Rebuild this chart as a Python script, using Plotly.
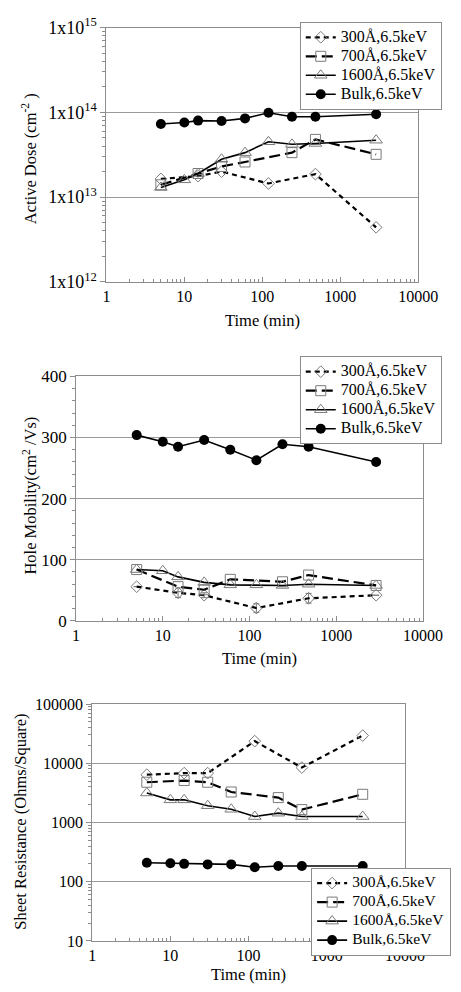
import plotly.graph_objects as go

# ---------------- data ----------------
series_names = ["300Å,6.5keV", "700Å,6.5keV", "1600Å,6.5keV", "Bulk,6.5keV"]

# Panel 1: Active dose (cm^-2)
dose_t300 = [5, 15, 30, 120, 480, 2880]
dose_300 = [1.64e13, 1.77e13, 2.0e13, 1.45e13, 1.87e13, 4.4e12]
dose_t700 = [5, 15, 30, 60, 240, 480, 2880]
dose_700 = [1.4e13, 1.9e13, 2.3e13, 2.6e13, 3.35e13, 4.8e13, 3.2e13]
dose_t1600 = [5, 10, 15, 30, 60, 120, 240, 480, 2880]
dose_1600 = [1.3e13, 1.6e13, 1.9e13, 2.8e13, 3.35e13, 4.5e13, 4.2e13, 4.3e13, 4.7e13]
dose_tbulk = [5, 10, 15, 30, 60, 120, 240, 480, 2880]
dose_bulk = [7.3e13, 7.6e13, 8.0e13, 7.9e13, 8.5e13, 9.9e13, 8.9e13, 8.9e13, 9.5e13]

# Panel 2: Hole mobility (cm^2/Vs)
mob_t300 = [5, 15, 30, 120, 480, 2880]
mob_300 = [56, 46, 42, 21, 37, 42]
mob_err300 = [0, 8, 4, 7, 8, 0]
mob_t700 = [5, 15, 30, 60, 240, 480, 2880]
mob_700 = [84, 56, 51, 68, 64, 75, 58]
mob_t1600 = [5, 10, 15, 30, 60, 120, 240, 480, 2880]
mob_1600 = [84, 82, 72, 63, 59, 59, 58, 60, 58]
mob_tbulk = [5, 10, 15, 30, 60, 120, 240, 480, 2880]
mob_bulk = [304, 293, 285, 296, 280, 263, 289, 285, 260]

# Panel 3: Sheet resistance (Ohms/Square)
rs_t300 = [5, 15, 30, 120, 480, 2880]
rs_300 = [6400, 6800, 6800, 23600, 8450, 29300]
rs_t700 = [5, 15, 30, 60, 240, 480, 2880]
rs_700 = [4780, 5100, 4780, 3270, 2630, 1650, 2990]
rs_t1600 = [5, 10, 15, 30, 60, 120, 240, 480, 2880]
rs_1600 = [3150, 2410, 2410, 1920, 1670, 1260, 1435, 1260, 1260]
rs_tbulk = [5, 10, 15, 30, 60, 120, 240, 480, 2880]
rs_bulk = [209, 205, 200, 196, 196, 175, 184, 184, 184]

x_tickvals = [1, 10, 100, 1000, 10000]
x_ticktext = ["1", "10", "100", "1000", "10000"]
dose_tickvals = [1e12, 1e13, 1e14, 1e15]
dose_ticktext = ["1x10<sup>12</sup>", "1x10<sup>13</sup>", "1x10<sup>14</sup>", "1x10<sup>15</sup>"]
mob_tickvals = [0, 100, 200, 300, 400]
rs_tickvals = [10, 100, 1000, 10000, 100000]
rs_ticktext = ["10", "100", "1000", "10000", "100000"]

# ---------------- styles ----------------
SERIF = "Liberation Serif, Times New Roman, serif"
GRAY = "#7a7a7a"
styles = [
    dict(line=dict(color="black", width=2.2, dash="5px,4px"),
         marker=dict(symbol="diamond-open", size=9, color=GRAY, line=dict(width=1, color=GRAY))),
    dict(line=dict(color="black", width=2.2, dash="11px,5px"),
         marker=dict(symbol="square-open", size=10, color=GRAY, line=dict(width=1, color=GRAY))),
    dict(line=dict(color="black", width=1.6),
         marker=dict(symbol="triangle-up-open", size=11, color=GRAY, line=dict(width=1, color=GRAY))),
    dict(line=dict(color="black", width=1.6),
         marker=dict(symbol="circle", size=10, color="black", line=dict(width=0))),
]

fig = go.Figure()

panels = [
    ("x", "y", "legend", 16, [(dose_t300, dose_300, None), (dose_t700, dose_700, None),
                              (dose_t1600, dose_1600, None), (dose_tbulk, dose_bulk, None)]),
    ("x2", "y2", "legend2", 16, [(mob_t300, mob_300, mob_err300), (mob_t700, mob_700, None),
                                 (mob_t1600, mob_1600, None), (mob_tbulk, mob_bulk, None)]),
    ("x3", "y3", "legend3", 15.5, [(rs_t300, rs_300, None), (rs_t700, rs_700, None),
                                   (rs_t1600, rs_1600, None), (rs_tbulk, rs_bulk, None)]),
]

for xa, ya, lg, fs, data in panels:
    for i, (tx, vy, err) in enumerate(data):
        kw = {}
        if err is not None:
            kw["error_y"] = dict(type="data", array=err, visible=True, color=GRAY,
                                 thickness=1, width=3)
        fig.add_trace(go.Scatter(
            x=tx, y=vy, mode="lines+markers",
            name=f"<span style='font-size:{fs}px'>{series_names[i]}</span>",
            xaxis=xa, yaxis=ya, legend=lg, **styles[i], **kw))

W, H = 461, 992


def dx(a, b):
    return [a / W, b / W]


def dy(top, bottom):
    return [1 - bottom / H, 1 - top / H]


def minor_log(lo, hi):
    return [m * 10 ** e for e in range(lo, hi) for m in range(2, 10)]


axis_common = dict(showline=True, linecolor="#8c8c8c", linewidth=1, mirror=True,
                   tickfont=dict(family=SERIF, size=16, color="black"), zeroline=False)

xaxis_common = dict(axis_common, type="log", range=[0, 4], tickmode="array",
                    tickvals=x_tickvals, ticktext=x_ticktext, showgrid=False,
                    ticks="inside", ticklen=5, tickcolor="#8c8c8c",
                    minor=dict(tickmode="array", tickvals=minor_log(0, 4), ticks="inside",
                               ticklen=3, tickcolor="#8c8c8c", showgrid=False))

legend_common = dict(xanchor="left", yanchor="top", bgcolor="white",
                     bordercolor="#8c8c8c", borderwidth=1)

fig.update_layout(
    width=W, height=H, margin=dict(l=0, r=0, t=0, b=0),
    paper_bgcolor="white", plot_bgcolor="white",
    font=dict(family=SERIF, color="black"),
    xaxis=dict(xaxis_common, domain=dx(108, 437), anchor="y"),
    yaxis=dict(axis_common, type="log", range=[12, 15], domain=dy(16, 276), anchor="x",
               tickmode="array", tickvals=dose_tickvals, ticktext=dose_ticktext,
               tickfont=dict(family=SERIF, size=18, color="black"),
               showgrid=True, gridcolor="#9a9a9a", gridwidth=1,
               ticks="outside", ticklen=5, tickcolor="#8c8c8c",
               minor=dict(tickmode="array", tickvals=minor_log(12, 15), ticks="outside",
                          ticklen=3, tickcolor="#8c8c8c", showgrid=False)),
    xaxis2=dict(xaxis_common, domain=dx(76, 442), anchor="y2"),
    yaxis2=dict(axis_common, range=[0, 400], domain=dy(372.7, 622.7), anchor="x2",
                tickmode="array", tickvals=mob_tickvals,
                tickfont=dict(family=SERIF, size=17, color="black"),
                showgrid=True, gridcolor="#9a9a9a", gridwidth=1,
                ticks="outside", ticklen=5, tickcolor="#8c8c8c",
                minor=dict(dtick=20, ticks="outside", ticklen=3, tickcolor="#8c8c8c",
                           showgrid=False)),
    xaxis3=dict(xaxis_common, domain=dx(93, 423), anchor="y3"),
    yaxis3=dict(axis_common, type="log", range=[1, 5], domain=dy(707.7, 950), anchor="x3",
                tickmode="array", tickvals=rs_tickvals, ticktext=rs_ticktext,
                showgrid=True, gridcolor="#9a9a9a", gridwidth=1,
                ticks="outside", ticklen=5, tickcolor="#8c8c8c",
                minor=dict(tickmode="array", tickvals=minor_log(1, 5), ticks="outside",
                           ticklen=3, tickcolor="#8c8c8c", showgrid=False)),
    legend=dict(legend_common, x=312 / W, y=1 - 10 / H,
                font=dict(family=SERIF, size=12, color="black")),
    legend2=dict(legend_common, x=312 / W, y=1 - 352 / H,
                 font=dict(family=SERIF, size=11, color="black")),
    legend3=dict(legend_common, x=324 / W, y=1 - 875 / H,
                 font=dict(family=SERIF, size=10, color="black")),
    showlegend=True,
)

title_font = dict(family=SERIF, size=16.5, color="black")
annots = [
    dict(text="Active Dose (cm<sup>-2</sup> )", x=27 / W, y=1 - 150 / H, textangle=-90),
    dict(text="Time (min)", x=273 / W, y=1 - 316 / H, textangle=0),
    dict(text="Hole Mobility(cm<sup>2</sup> /Vs)", x=27 / W, y=1 - 495 / H, textangle=-90),
    dict(text="Time (min)", x=270 / W, y=1 - 661 / H, textangle=0),
    dict(text="Sheet Resistance (Ohms/Square)", x=18 / W, y=1 - 828 / H, textangle=-90),
    dict(text="Time (min)", x=258 / W, y=1 - 984 / H, textangle=0),
]
for a in annots:
    fig.add_annotation(xref="paper", yref="paper", xanchor="center", yanchor="middle",
                       showarrow=False, font=title_font, **a)

fig.write_html("out.html")
